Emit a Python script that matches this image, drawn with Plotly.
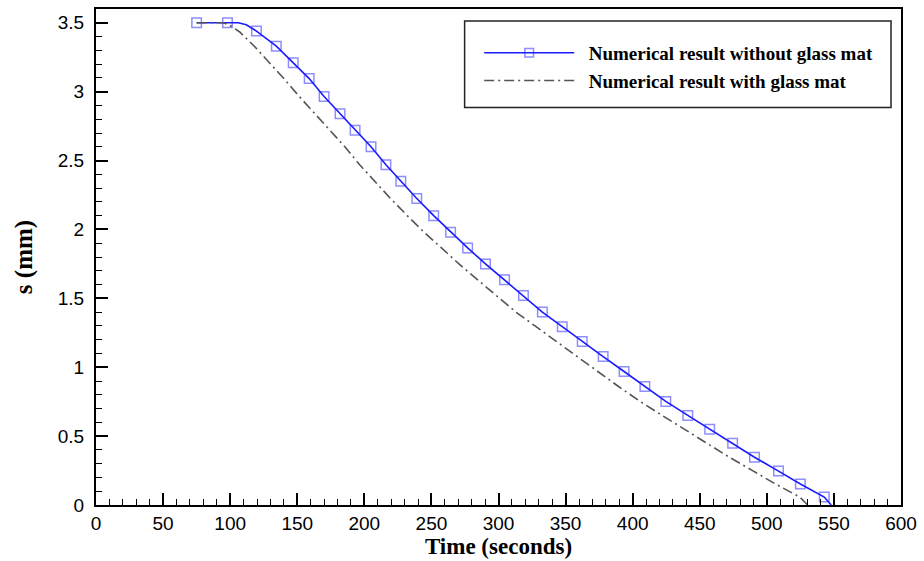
import plotly.graph_objects as go

# Blue curve: numerical result without glass mat (markers)
t_marker = [75.0, 98.0, 119.6, 134.4, 147.0, 158.9, 170.0, 181.9, 193.1, 205.0, 216.1,
            227.2, 239.1, 251.7, 264.3, 277.0, 290.3, 304.5, 318.6, 332.7, 347.5, 362.4,
            378.0, 393.6, 409.1, 424.7, 441.1, 457.4, 474.5, 490.8, 508.7, 525.0, 542.8]
s_marker = [3.5, 3.5, 3.44, 3.33, 3.21, 3.095, 2.965, 2.84, 2.72, 2.60, 2.47,
            2.35, 2.225, 2.10, 1.98, 1.866, 1.75, 1.634, 1.52, 1.40, 1.294, 1.186,
            1.077, 0.969, 0.86, 0.752, 0.65, 0.55, 0.448, 0.347, 0.246, 0.152, 0.058]
# extra (unmarked) line points of the blue curve
t_extra = [106.0, 112.0, 548.0]
s_extra = [3.5, 3.485, 0.0]

# Gray dash-dot curve: numerical result with glass mat
t_glass = [75.0, 95.0, 100.0, 106.9, 118.0, 129.5, 140.0, 151.5, 163.0, 174.0, 185.5,
           196.5, 207.5, 219.5, 232.0, 244.5, 257.5, 270.5, 284.5, 298.5, 313.0, 328.0,
           343.0, 358.5, 374.0, 389.5, 405.5, 422.0, 438.5, 455.5, 472.0, 490.0, 506.5,
           524.5, 530.5]
s_glass = [3.5, 3.5, 3.48, 3.435, 3.33, 3.21, 3.095, 2.965, 2.84, 2.72, 2.60,
           2.47, 2.35, 2.225, 2.10, 1.98, 1.866, 1.75, 1.634, 1.52, 1.40, 1.294,
           1.186, 1.077, 0.969, 0.86, 0.752, 0.65, 0.55, 0.448, 0.347, 0.246, 0.152,
           0.058, 0.0]

x_ticks = list(range(0, 601, 50))
y_ticks = [0, 0.5, 1, 1.5, 2, 2.5, 3, 3.5]
y_tick_labels = ["0", "0.5", "1", "1.5", "2", "2.5", "3", "3.5"]

# merge blue line points in order; markers only on marker points
pts = sorted([(t, s, 9.5) for t, s in zip(t_marker, s_marker)] +
             [(t, s, 0) for t, s in zip(t_extra, s_extra)])
t_blue = [p[0] for p in pts]
s_blue = [p[1] for p in pts]
sz_blue = [p[2] for p in pts]

NB = "\u00a0\u00a0"

fig = go.Figure()
fig.add_trace(go.Scatter(
    x=t_blue, y=s_blue, mode="lines+markers",
    name=NB + "Numerical result without glass mat",
    line=dict(color="#1a1aff", width=1.6),
    marker=dict(symbol="square-open", size=sz_blue, color="rgba(40,40,255,0.75)",
                line=dict(width=1.5, color="rgba(40,40,255,0.75)")),
))
fig.add_trace(go.Scatter(
    x=t_glass, y=s_glass, mode="lines",
    name=NB + "Numerical result with glass mat",
    line=dict(color="#555555", width=1.6, dash="10px,4px,2px,4px"),
))

# legend frame
fig.add_shape(type="rect", xref="paper", yref="paper",
              x0=0.4579, x1=0.9876, y0=0.8012, y1=0.9759,
              line=dict(color="#222222", width=1.5), fillcolor="white", layer="below")

fig.update_layout(
    width=924, height=561,
    margin=dict(l=96, r=20, t=7, b=56),
    paper_bgcolor="white", plot_bgcolor="white",
    showlegend=True,
    legend=dict(
        x=0.476, y=0.9498, xanchor="left", yanchor="top",
        bgcolor="rgba(0,0,0,0)", borderwidth=0,
        font=dict(family="Liberation Serif", size=19, color="black", weight="bold"),
        itemwidth=90, tracegroupgap=0,
    ),
    font=dict(family="Liberation Sans", color="black"),
)
fig.update_xaxes(
    range=[0, 600], tickvals=x_ticks, ticktext=[str(v) for v in x_ticks],
    ticks="inside", ticklen=12, tickwidth=2, tickcolor="black",
    showline=True, linewidth=2, linecolor="black", mirror=True,
    showgrid=False, zeroline=False,
    tickfont=dict(family="Liberation Sans", size=19, color="black"),
    minor=dict(dtick=10, ticks="inside", ticklen=6, tickwidth=1, tickcolor="black", showgrid=False),
    title=dict(text="Time (seconds)", standoff=4,
               font=dict(family="Liberation Serif", size=23, color="black", weight="bold")),
)
fig.update_yaxes(
    range=[0, 3.6], tickvals=y_ticks, ticktext=y_tick_labels,
    ticks="inside", ticklen=12, tickwidth=2, tickcolor="black",
    showline=True, linewidth=2, linecolor="black", mirror=True,
    showgrid=False, zeroline=False,
    tickfont=dict(family="Liberation Sans", size=19, color="black"),
    ticklabelstandoff=6,
    minor=dict(dtick=0.1, ticks="inside", ticklen=6, tickwidth=1, tickcolor="black", showgrid=False),
    title=dict(text="s (mm)", standoff=18,
               font=dict(family="Liberation Serif", size=25, color="black", weight="bold")),
)

fig.write_html("out.html")
